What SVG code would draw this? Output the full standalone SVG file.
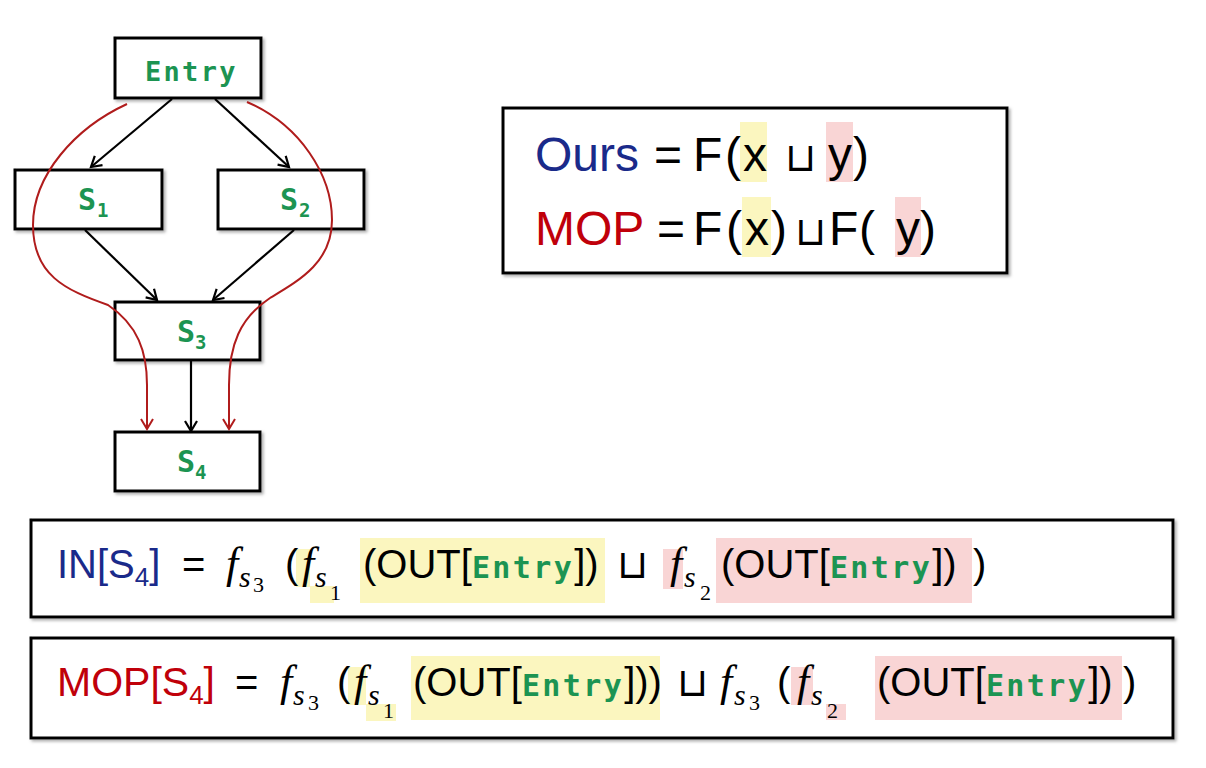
<svg xmlns="http://www.w3.org/2000/svg" width="1206" height="768" viewBox="0 0 1206 768">
<defs>
<style>
.box{fill:#fff;stroke:#000;stroke-width:3;filter:url(#sh)}
.t{font-family:"Liberation Sans",Arial,"DejaVu Sans",sans-serif;fill:#000}
.m{font-family:"Liberation Serif","DejaVu Serif",serif;font-style:italic;fill:#000}
.d{font-family:"Liberation Serif","DejaVu Serif",serif;fill:#000}
.g{font-family:"DejaVu Sans Mono",monospace;font-weight:bold;fill:#1c9452}
.cup{font-family:"DejaVu Sans",sans-serif;font-weight:200;fill:#000}
.blue{fill:#1a2a8a}
.red{fill:#c0000a}
.hy{fill:#fbf6bf}
.hp{fill:#f9d5d5}
.blk{fill:none;stroke:#000;stroke-width:2.2;marker-end:url(#ab)}
.rd{fill:none;stroke:#b01c1c;stroke-width:2;marker-end:url(#ar)}
</style>
<filter id="sh" x="-10%" y="-10%" width="120%" height="130%">
<feDropShadow dx="2" dy="2" stdDeviation="1.5" flood-color="#777" flood-opacity="0.6"/>
</filter>
<marker id="ab" markerUnits="userSpaceOnUse" markerWidth="16" markerHeight="16" refX="13" refY="8" orient="auto"><path d="M3,2 L13,8 L3,14" fill="none" stroke="#000" stroke-width="2.2"/></marker>
<marker id="ar" markerUnits="userSpaceOnUse" markerWidth="16" markerHeight="16" refX="13" refY="8" orient="auto"><path d="M3,2 L13,8 L3,14" fill="none" stroke="#b01c1c" stroke-width="2"/></marker>
</defs>
<rect width="1206" height="768" fill="#fff"/>

<g id="entry">
<rect class="box" x="115" y="38" width="146" height="60"/>
<text class="g" x="145" y="81" font-size="27" letter-spacing="2.3">Entry</text>
</g>
<g id="s1">
<rect class="box" x="15" y="170" width="147" height="59"/>
<text class="g" x="78" y="210" font-size="30">S</text><text class="g" x="97" y="217" font-size="19">1</text>
</g>
<g id="s2">
<rect class="box" x="218" y="170" width="146" height="59"/>
<text class="g" x="280" y="210" font-size="30">S</text><text class="g" x="299" y="217" font-size="19">2</text>
</g>
<g id="s3">
<rect class="box" x="115" y="302" width="145" height="58"/>
<text class="g" x="177" y="342" font-size="30">S</text><text class="g" x="195" y="349" font-size="19">3</text>
</g>
<g id="s4">
<rect class="box" x="115" y="432" width="145" height="59"/>
<text class="g" x="177" y="472" font-size="30">S</text><text class="g" x="195" y="479" font-size="19">4</text>
</g>

<g id="connectors">
<path class="blk" d="M172,99 L91,167"/>
<path class="blk" d="M215,99 L289,167"/>
<path class="blk" d="M85,230 L157,300"/>
<path class="blk" d="M294,230 L213,300"/>
<path class="blk" d="M191,361 L191,431"/>
<path class="rd" d="M127,104 C75,128 33,175 33,225 C33,275 65,290 108,305 C138,325 147,352 147,385 L147,429"/>
<path class="rd" d="M247,102 C300,125 332,175 332,220 C332,262 300,280 270,298 C240,318 229,345 229,385 L229,429"/>
</g>

<g id="compare">
<rect class="box" x="503" y="108" width="504" height="165"/>
<rect class="hy" x="740" y="122" width="27" height="60"/>
<rect class="hp" x="826" y="122" width="27" height="60"/>
<rect class="hy" x="742" y="197" width="29" height="60"/>
<rect class="hp" x="895" y="197" width="26" height="60"/>
<text class="t blue" x="535" y="171" font-size="48">Ours</text>
<text class="t" x="654" y="171" font-size="48">=</text>
<text class="t" x="693" y="171" font-size="48">F</text>
<text class="t" x="725" y="171" font-size="48">(</text>
<text class="t" x="743" y="171" font-size="48">x</text>
<text class="cup" x="785" y="171" font-size="40">⊔</text>
<text class="t" x="828" y="171" font-size="48">y</text>
<text class="t" x="853" y="171" font-size="48">)</text>
<text class="t red" x="535" y="245" font-size="48">MOP</text>
<text class="t" x="657" y="245" font-size="48">=</text>
<text class="t" x="693" y="245" font-size="48">F</text>
<text class="t" x="726" y="245" font-size="48">(</text>
<text class="t" x="745" y="245" font-size="48">x</text>
<text class="t" x="771" y="245" font-size="48">)</text>
<text class="cup" x="795" y="245" font-size="40">⊔</text>
<text class="t" x="829" y="245" font-size="48">F</text>
<text class="t" x="859" y="245" font-size="48">(</text>
<text class="t" x="896" y="245" font-size="48">y</text>
<text class="t" x="920" y="245" font-size="48">)</text>
</g>

<g id="in-eq">
<rect class="box" x="31" y="520" width="1142" height="97"/>
<rect class="hy" x="296" y="549" width="14" height="38"/>
<rect class="hy" x="310" y="586" width="24" height="17"/>
<rect class="hy" x="360" y="538" width="245" height="65"/>
<rect class="hp" x="663" y="549" width="20" height="40"/>
<rect class="hp" x="716" y="538" width="256" height="65"/>
<text class="t blue" x="57" y="578" font-size="40">IN[S<tspan font-size="26" dy="8">4</tspan><tspan dy="-8">]</tspan></text>
<text class="t" x="182" y="578" font-size="40">=</text>
<text class="m" x="226" y="578" font-size="44">f</text><text class="m" x="239" y="587" font-size="30">s</text><text class="d" x="253" y="592" font-size="22">3</text>
<text class="t" x="285" y="578" font-size="40">(</text>
<text class="m" x="302" y="578" font-size="44">f</text><text class="m" x="315" y="587" font-size="30">s</text><text class="d" x="330" y="600" font-size="22">1</text>
<text class="t" x="363" y="578" font-size="40">(OUT[<tspan class="g" font-size="30" letter-spacing="2.4">Entry</tspan>])</text>
<text class="cup" x="617" y="578" font-size="40">⊔</text>
<text class="m" x="670" y="578" font-size="44">f</text><text class="m" x="684" y="587" font-size="30">s</text><text class="d" x="700" y="600" font-size="22">2</text>
<text class="t" x="721" y="578" font-size="40">(OUT[<tspan class="g" font-size="30" letter-spacing="2.4">Entry</tspan>])</text>
<text class="t" x="973" y="578" font-size="40">)</text>
</g>

<g id="mop-eq">
<rect class="box" x="31" y="638" width="1142" height="100"/>
<rect class="hy" x="348" y="667" width="18" height="38"/>
<rect class="hy" x="366" y="704" width="30" height="17"/>
<rect class="hy" x="411" y="656" width="249" height="64"/>
<rect class="hp" x="791" y="667" width="22" height="38"/>
<rect class="hp" x="826" y="704" width="20" height="16"/>
<rect class="hp" x="875" y="656" width="247" height="64"/>
<text class="t red" x="57" y="696" font-size="41">MOP[S<tspan font-size="26" dy="8">4</tspan><tspan dy="-8">]</tspan></text>
<text class="t" x="235" y="696" font-size="40">=</text>
<text class="m" x="280" y="696" font-size="44">f</text><text class="m" x="293" y="705" font-size="30">s</text><text class="d" x="308" y="710" font-size="22">3</text>
<text class="t" x="337" y="696" font-size="40">(</text>
<text class="m" x="354" y="696" font-size="44">f</text><text class="m" x="368" y="705" font-size="30">s</text><text class="d" x="383" y="718" font-size="22">1</text>
<text class="t" x="413" y="696" font-size="40">(OUT[<tspan class="g" font-size="30" letter-spacing="2.4">Entry</tspan>]))</text>
<text class="cup" x="677" y="696" font-size="40">⊔</text>
<text class="m" x="720" y="696" font-size="44">f</text><text class="m" x="734" y="705" font-size="30">s</text><text class="d" x="749" y="710" font-size="22">3</text>
<text class="t" x="777" y="696" font-size="40">(</text>
<text class="m" x="797" y="696" font-size="44">f</text><text class="m" x="811" y="705" font-size="30">s</text><text class="d" x="827" y="718" font-size="22">2</text>
<text class="t" x="877" y="696" font-size="40">(OUT[<tspan class="g" font-size="30" letter-spacing="2.4">Entry</tspan>])</text>
<text class="t" x="1123" y="696" font-size="40">)</text>
</g>
</svg>
